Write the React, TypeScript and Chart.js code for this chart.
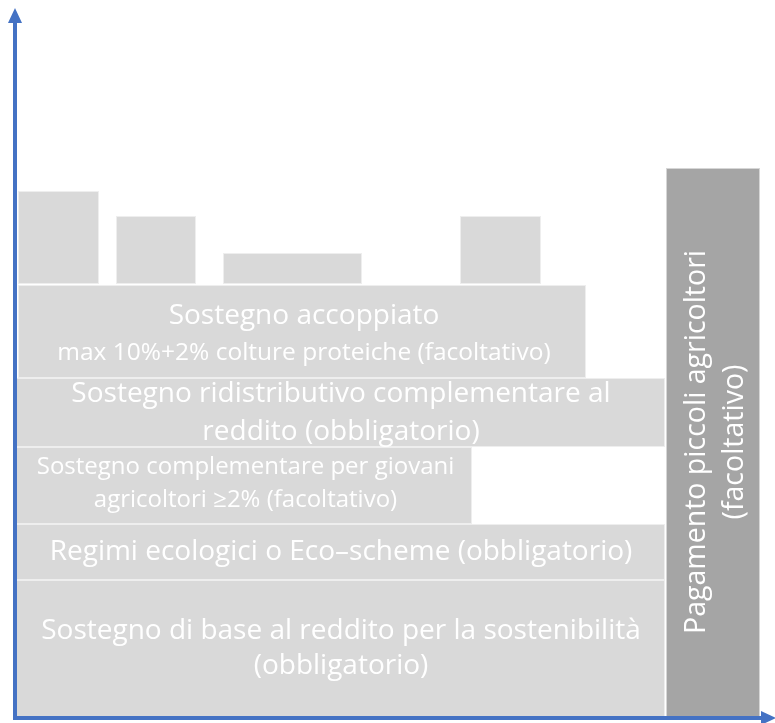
import React, { useEffect, useRef } from "react";
import { Chart, registerables } from "chart.js";

Chart.register(...registerables);

// Blocks of the diagram (units measured from the axes origin)
const blockNames = [
  "Sostegno di base",
  "Eco-scheme",
  "Giovani agricoltori",
  "Ridistributivo",
  "Accoppiato",
  "Accoppiato 1",
  "Accoppiato 2",
  "Accoppiato 3",
  "Accoppiato 4",
  "Piccoli agricoltori",
];
const blockStart = [0, 0, 0, 0, 3, 3, 101, 208, 445, 651];
const blockEnd = [650, 650, 457, 650, 571, 84, 181, 347, 526, 745];
const blockBottom = [0, 138, 194, 271, 340, 434, 434, 434, 434, 0];
const blockTop = [138, 194, 271, 340, 433, 527, 502, 465, 502, 550];
const blockLabels: string[][] = [
  ["Sostegno di base al reddito per la sostenibilità", "(obbligatorio)"],
  ["Regimi ecologici o Eco\u2013scheme (obbligatorio)"],
  ["Sostegno complementare per giovani", "agricoltori \u22652% (facoltativo)"],
  ["Sostegno ridistributivo complementare al", "reddito (obbligatorio)"],
  ["Sostegno accoppiato", "max 10%+2% colture proteiche (facoltativo)"],
  [],
  [],
  [],
  [],
  ["Pagamento piccoli agricoltori", "(facoltativo)"],
];

// Styling (kept separate from the data)
const LIGHT = "#d9d9d9";
const DARK = "#a5a5a5";
const AXIS = "#4472c4";
const FONT = "'Open Sans', 'Noto Sans', sans-serif";
const blockColors = blockNames.map((_, i) => (i === 9 ? DARK : LIGHT));
const labelStyle: { sizes: number[]; gap: number; dx: number; dy: number; vertical?: boolean }[] = [
  { sizes: [28, 28], gap: 35, dx: 1, dy: 0 },
  { sizes: [28], gap: 0, dx: 1, dy: 0 },
  { sizes: [24, 24], gap: 33, dx: 2, dy: -2 },
  { sizes: [28, 28], gap: 38, dx: 1, dy: 1 },
  { sizes: [28, 24.5], gap: 37, dx: 2, dy: 3 },
  { sizes: [], gap: 0, dx: 0, dy: 0 },
  { sizes: [], gap: 0, dx: 0, dy: 0 },
  { sizes: [], gap: 0, dx: 0, dy: 0 },
  { sizes: [], gap: 0, dx: 0, dy: 0 },
  { sizes: [28.5, 28.5], gap: 38, dx: 3, dy: -1, vertical: true },
];

const diagramPlugin = {
  id: "diagramPlugin",
  afterDatasetsDraw(chart: any) {
    const ctx: CanvasRenderingContext2D = chart.ctx;
    const xs = chart.scales.x;
    const ys = chart.scales.y;
    ctx.save();
    // faint white outlines of the blocks
    blockNames.forEach((_, i) => {
      const l = xs.getPixelForValue(blockStart[i]);
      const r = xs.getPixelForValue(blockEnd[i]);
      const t = ys.getPixelForValue(blockTop[i]);
      const b = ys.getPixelForValue(blockBottom[i]);
      ctx.strokeStyle = "rgba(255,255,255,0.55)";
      ctx.lineWidth = 1;
      ctx.strokeRect(l + 0.5, t + 0.5, r - l - 1, b - t - 1);
    });
    // labels
    blockNames.forEach((_, i) => {
      const lines = blockLabels[i];
      if (!lines.length) return;
      const st = labelStyle[i];
      const l = xs.getPixelForValue(blockStart[i]);
      const r = xs.getPixelForValue(blockEnd[i]);
      const t = ys.getPixelForValue(blockTop[i]);
      const b = ys.getPixelForValue(blockBottom[i]);
      const cx = (l + r) / 2 + st.dx;
      const cy = (t + b) / 2 + st.dy;
      ctx.save();
      ctx.translate(cx, cy);
      if (st.vertical) ctx.rotate(-Math.PI / 2);
      ctx.fillStyle = "#ffffff";
      ctx.textAlign = "center";
      ctx.textBaseline = "middle";
      lines.forEach((line, k) => {
        const off = (k - (lines.length - 1) / 2) * st.gap;
        ctx.font = `${st.sizes[k]}px ${FONT}`;
        ctx.fillText(line, 0, off);
      });
      ctx.restore();
    });
    // axes with arrow heads
    const ca = chart.chartArea;
    ctx.strokeStyle = AXIS;
    ctx.fillStyle = AXIS;
    ctx.lineWidth = 4;
    ctx.beginPath();
    ctx.moveTo(ca.left, ca.bottom + 2);
    ctx.lineTo(ca.left, ca.top + 16);
    ctx.stroke();
    ctx.beginPath();
    ctx.moveTo(ca.left, ca.top + 3);
    ctx.lineTo(ca.left - 7, ca.top + 18);
    ctx.lineTo(ca.left + 7, ca.top + 18);
    ctx.closePath();
    ctx.fill();
    ctx.beginPath();
    ctx.moveTo(ca.left - 2, ca.bottom);
    ctx.lineTo(ca.right - 12, ca.bottom);
    ctx.stroke();
    ctx.beginPath();
    ctx.moveTo(ca.right + 1, ca.bottom);
    ctx.lineTo(ca.right - 14, ca.bottom - 7);
    ctx.lineTo(ca.right - 14, ca.bottom + 7);
    ctx.closePath();
    ctx.fill();
    ctx.restore();
  },
};

export default function App() {
  const canvasRef = useRef<HTMLCanvasElement | null>(null);

  useEffect(() => {
    if (!canvasRef.current) return;
    const datasets = blockNames.map((name, i) => ({
      label: name,
      data: [
        { x: blockStart[i], y: blockTop[i] },
        { x: blockEnd[i], y: blockTop[i] },
      ],
      fill: { value: blockBottom[i] },
      backgroundColor: blockColors[i],
      borderColor: blockColors[i],
      borderWidth: 0,
      pointRadius: 0,
      tension: 0,
    }));
    const chart = new Chart(canvasRef.current, {
      type: "line",
      data: { datasets },
      options: {
        animation: false,
        responsive: false,
        layout: { padding: { left: 15, top: 5, right: 0, bottom: 5 } },
        scales: {
          x: { type: "linear", min: 0, max: 760, display: false },
          y: { type: "linear", min: 0, max: 713, display: false },
        },
        plugins: {
          legend: { display: false },
          tooltip: { enabled: false },
        },
      },
      plugins: [diagramPlugin],
    } as any);
    return () => chart.destroy();
  }, []);

  return (
    <div style={{ position: "fixed", left: 0, top: 0, width: 775, height: 723, background: "#fff" }}>
      <canvas ref={canvasRef} width={775} height={723} style={{ display: "block" }} />
    </div>
  );
}
